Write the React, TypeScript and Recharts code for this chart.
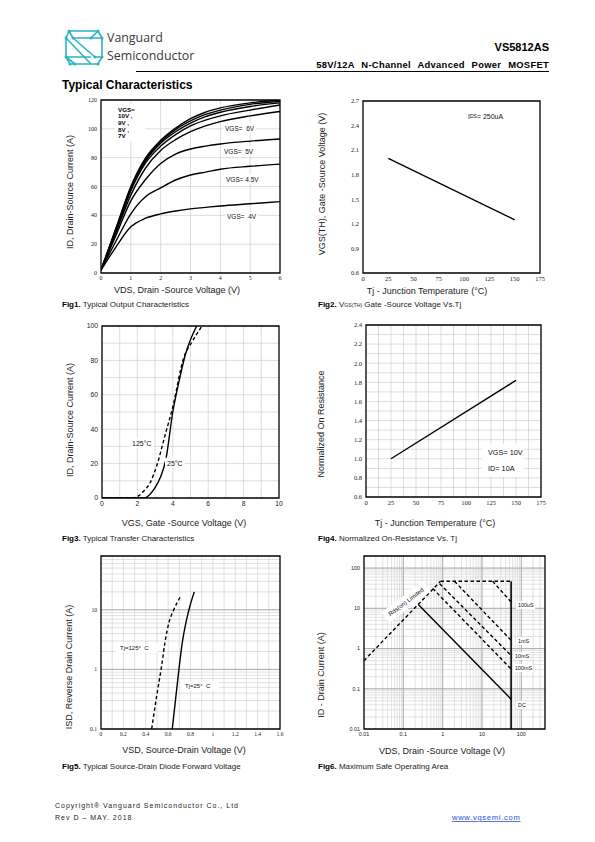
import React from "react";
import { LineChart, Line, XAxis, YAxis, CartesianGrid, ReferenceArea } from "recharts";

// Fig1 - output characteristics
const outVds = [0, 0.5, 1, 1.5, 2, 2.5, 3, 3.5, 4, 5, 6];
const idVgs10 = [2, 31, 60, 80, 92, 100.5, 107, 111.5, 114.5, 118, 120];
const idVgs9 = [2, 30.5, 59, 79, 91, 99.5, 105.5, 110, 113, 117, 119];
const idVgs8 = [2, 30, 58, 78, 90, 98, 104, 108.5, 111.5, 115.5, 118];
const idVgs7 = [2, 29, 57, 76.5, 88, 96, 102, 106, 109, 113, 116.5];
const idVgs6 = [2, 28, 54, 73, 85, 92.5, 98, 102, 105, 109, 112];
const idVgs5 = [2, 26, 50, 65, 76, 82.5, 86, 88, 89.5, 91.5, 93];
const idVgs45 = [2, 22, 41, 53, 59, 64.5, 68, 70, 72, 74, 75.5];
const idVgs4 = [2, 18, 32, 38, 41, 43, 44.5, 45.5, 46.5, 48, 49.5];

// Fig2 - threshold voltage vs Tj
const vthTj = [25, 150];
const vthV = [2.0, 1.25];

// Fig3 - transfer characteristics
const trVgs25 = [0, 2.4, 2.7, 3.0, 3.3, 3.6, 4.0, 4.4, 4.7, 5.0, 5.35];
const trId25 = [0, 0, 2, 6, 12, 22, 50, 70, 83, 92, 100];
const trVgs125 = [0, 1.7, 2.1, 2.4, 2.7, 3.1, 3.55, 4.0, 4.6, 5.1, 5.65];
const trId125 = [0, 0, 1.5, 4.5, 8.5, 19, 36, 53, 81, 91, 100];

// Fig4 - normalized Rds(on) vs Tj
const ronTj = [25, 150];
const ronNorm = [1.0, 1.82];

// Fig5 - diode forward voltage
const vsd125 = [0.453, 0.498, 0.542, 0.572, 0.608, 0.646, 0.715];
const isd125 = [0.1, 0.36, 1.15, 2.85, 6.2, 9.6, 17.4];
const vsd25 = [0.637, 0.667, 0.697, 0.727, 0.766, 0.795, 0.834];
const isd25 = [0.1, 0.32, 1.02, 2.85, 7, 11.6, 20];

// Fig6 - safe operating area
const rdsV = [0.01, 0.88];
const rdsI = [0.5, 47];
const limitV = [0.88, 55];
const limitI = [47, 47];
const edgeV = [55, 55];
const edgeI = [47, 0.01];
const us100V = [18.6, 55];
const us100I = [47, 14.4];
const ms1V = [2.0, 55];
const ms1I = [47, 1.6];
const ms10V = [0.84, 55];
const ms10I = [41, 0.67];
const ms100V = [0.56, 55];
const ms100I = [31, 0.31];
const dcV = [0.24, 55];
const dcI = [12.4, 0.055];
const soaLabels = ["100uS", "1mS", "10mS", "100mS", "DC"];

const zip = (xs: number[], ys: number[]) => xs.map((x, i) => ({ x, y: ys[i] }));

const logGrid = (from: number, to: number) => {
  const out: number[] = [];
  for (let d = from; d < to; d *= 10) {
    for (let k = 1; k < 10; k++) {
      const v = +(d * k).toPrecision(3);
      if (v > from && v < to) out.push(v);
    }
  }
  return out;
};

const SANS = "'Liberation Sans', Arial, sans-serif";
const SERIF = "'Liberation Serif', 'Times New Roman', serif";

type PlotProps = {
  left: number;
  top: number;
  w: number;
  h: number;
  xDomain: [number, number];
  yDomain: [number, number];
  xTicks: number[];
  yTicks: number[];
  xLog?: boolean;
  yLog?: boolean;
  gridX?: number[];
  gridY?: number[];
  majorX?: number[];
  majorY?: number[];
  gridColor?: string;
  tickFont?: string;
  tickSize?: number;
  yFmt?: (v: number) => string;
  children?: React.ReactNode;
};

function Plot(p: PlotProps) {
  const L = 40, T = 6, R = 8, B = 20;
  const tick = { fontFamily: p.tickFont ?? SERIF, fontSize: p.tickSize ?? 6, fill: "#222" };
  return (
    <div style={{ position: "absolute", left: p.left - L, top: p.top - T }}>
      <LineChart width={p.w + L + R} height={p.h + T + B} margin={{ top: T, right: R, bottom: 0, left: 0 }}>
        {(p.gridX || p.gridY) && (
          <CartesianGrid
            stroke={p.gridColor ?? "#cfcfcf"}
            strokeWidth={0.7}
            vertical={!!p.gridX}
            horizontal={!!p.gridY}
            verticalValues={p.gridX}
            horizontalValues={p.gridY}
          />
        )}
        {(p.majorX || p.majorY) && (
          <CartesianGrid
            stroke="#a8a8a8"
            strokeWidth={0.9}
            vertical={!!p.majorX}
            horizontal={!!p.majorY}
            verticalValues={p.majorX}
            horizontalValues={p.majorY}
          />
        )}
        <XAxis
          type="number"
          dataKey="x"
          scale={p.xLog ? "log" : "linear"}
          domain={p.xDomain}
          ticks={p.xTicks}
          interval={0}
          allowDataOverflow
          height={B}
          axisLine={false}
          tickLine={false}
          tickSize={0}
          tickMargin={3}
          tick={tick}
        />
        <YAxis
          type="number"
          scale={p.yLog ? "log" : "linear"}
          domain={p.yDomain}
          ticks={p.yTicks}
          interval={0}
          allowDataOverflow
          width={L}
          axisLine={false}
          tickLine={false}
          tickSize={0}
          tickMargin={4}
          tick={tick}
          tickFormatter={p.yFmt}
        />
        <ReferenceArea
          x1={p.xDomain[0]}
          x2={p.xDomain[1]}
          y1={p.yDomain[0]}
          y2={p.yDomain[1]}
          fill="none"
          fillOpacity={0}
          stroke="#000"
          strokeWidth={1.3}
        />
        {p.children}
      </LineChart>
    </div>
  );
}

const curve = (xs: number[], ys: number[], key: string, dashed = false, type: "monotone" | "linear" = "monotone", width = 1.4) => (
  <Line
    key={key}
    data={zip(xs, ys)}
    dataKey="y"
    type={type}
    stroke="#000"
    strokeWidth={width}
    strokeDasharray={dashed ? "3.5 2.5" : undefined}
    dot={false}
    activeDot={false}
    isAnimationActive={false}
  />
);

function Note({ x, y, text, size = 6.5, bold = false, font = SANS, pad = 2 }: { x: number; y: number; text: string; size?: number; bold?: boolean; font?: string; pad?: number }) {
  const w = text.length * size * 0.56;
  return (
    <g>
      <rect x={x - pad} y={y - size * 0.75} width={w + pad * 2} height={size * 1.5} fill="#fff" />
      <text x={x} y={y} dominantBaseline="central" fontFamily={font} fontSize={size} fontWeight={bold ? 700 : 400} fill="#111" xmlSpace="preserve">
        {text}
      </text>
    </g>
  );
}

function VLabel({ x, y, text }: { x: number; y: number; text: string }) {
  return (
    <text transform={`translate(${x},${y}) rotate(-90)`} textAnchor="middle" dominantBaseline="central" fontFamily={SANS} fontSize={9} fill="#222">
      {text}
    </text>
  );
}

function HLabel({ x, y, children }: { x: number; y: number; children: React.ReactNode }) {
  return (
    <text x={x} y={y} textAnchor="middle" dominantBaseline="central" fontFamily={SANS} fontSize={9} fill="#222">
      {children}
    </text>
  );
}

function Caption({ x, y, fig, children }: { x: number; y: number; fig: string; children: React.ReactNode }) {
  return (
    <text x={x} y={y} fontFamily={SANS} fontSize={8} fill="#222">
      <tspan fontWeight={700} fill="#000">{fig}</tspan> {children}
    </text>
  );
}

function Logo() {
  const c = "#2bb3c6";
  const nodes = [
    [69, 31], [98, 31], [102, 38], [66, 38], [73, 38], [95, 57], [102, 57], [66, 57], [70, 64], [98, 64], [91, 38], [75, 64],
  ];
  return (
    <g stroke={c} strokeWidth={1.6} fill="none" strokeLinejoin="round">
      <path d="M69 31 H98 L102 38 H73 L69 31 L66 38 L91 64" />
      <path d="M73 38 L95 57 H102 L98 64 H70 L66 57 H91" />
      <path d="M98 31 L91 38 M66 38 L66 57 M102 38 L102 57 M75 64 L66 57" />
      {nodes.map(([x, y], i) => (
        <circle key={i} cx={x} cy={y} r={1.5} fill={c} stroke="none" />
      ))}
    </g>
  );
}

const fix1 = (v: number) => v.toFixed(1);

export default function App() {
  return (
    <div style={{ position: "absolute", left: 0, top: 0, width: 595, height: 842, background: "#fff", overflow: "hidden" }}>
      <svg width={595} height={842} style={{ position: "absolute", left: 0, top: 0 }}>
        <Logo />
        <text x={107} y={42} fontFamily="'Open Sans', sans-serif" fontSize={12.4} fill="#3a3a3a">Vanguard</text>
        <text x={107} y={60} fontFamily="'Open Sans', sans-serif" fontSize={12.4} fill="#3a3a3a">Semiconductor</text>
        <text x={549} y={51} textAnchor="end" fontFamily={SANS} fontSize={11} fontWeight={700}>VS5812AS</text>
        <text x={549} y={68} textAnchor="end" fontFamily={SANS} fontSize={9.4} fontWeight={700} letterSpacing={0.3} wordSpacing={4}>58V/12A N-Channel Advanced Power MOSFET</text>
        <line x1={136} y1={71.5} x2={549} y2={71.5} stroke="#000" strokeWidth={1} />
        <text x={62} y={89} fontFamily={SANS} fontSize={12} fontWeight={700}>Typical Characteristics</text>

        <VLabel x={70} y={192} text="ID, Drain-Source Current (A)" />
        <HLabel x={177} y={290}>VDS, Drain -Source Voltage (V)</HLabel>
        <Caption x={62} y={307} fig="Fig1.">Typical Output Characteristics</Caption>

        <VLabel x={322} y={184} text="VGS(TH), Gate -Source Voltage (V)" />
        <HLabel x={427} y={291}>Tj - Junction Temperature (°C)</HLabel>
        <Caption x={318} y={307} fig="Fig2.">
          V<tspan fontSize={5.2}>GS(TH)</tspan> Gate -Source Voltage Vs.Tj
        </Caption>

        <VLabel x={70} y={420} text="ID, Drain-Source Current (A)" />
        <HLabel x={184} y={523}>VGS, Gate -Source Voltage (V)</HLabel>
        <Caption x={62} y={541} fig="Fig3.">Typical Transfer Characteristics</Caption>

        <VLabel x={321} y={424} text="Normalized On Resistance" />
        <HLabel x={435} y={523}>Tj - Junction Temperature (°C)</HLabel>
        <Caption x={318} y={541} fig="Fig4.">Normalized On-Resistance Vs. Tj</Caption>

        <VLabel x={69} y={667} text="ISD, Reverse Drain Current (A)" />
        <HLabel x={184} y={750}>VSD, Source-Drain Voltage (V)</HLabel>
        <Caption x={62} y={769} fig="Fig5.">Typical Source-Drain Diode Forward Voltage</Caption>

        <VLabel x={321} y={675} text="ID - Drain Current (A)" />
        <HLabel x={442} y={751}>VDS, Drain -Source Voltage (V)</HLabel>
        <Caption x={318} y={769} fig="Fig6.">Maximum Safe Operating Area</Caption>

        <text x={55} y={808} fontFamily={SANS} fontSize={7} letterSpacing={1} fill="#222">Copyright® Vanguard Semiconductor Co., Ltd</text>
        <text x={55} y={820} fontFamily={SANS} fontSize={7} letterSpacing={1} fill="#222">Rev D – MAY. 2018</text>
        <text x={452} y={820} fontFamily={SANS} fontSize={7.6} letterSpacing={0.7} fill="#1d4fd8" textDecoration="underline">www.vgsemi.com</text>
      </svg>

      <Plot left={101} top={100} w={179} h={173} xDomain={[0, 6]} yDomain={[0, 120]} xTicks={[0, 1, 2, 3, 4, 5, 6]} yTicks={[0, 20, 40, 60, 80, 100, 120]}
        gridX={[1, 2, 3, 4, 5]} gridY={[20, 40, 60, 80, 100]}>
        {curve(outVds, idVgs4, "v4")}
        {curve(outVds, idVgs45, "v45")}
        {curve(outVds, idVgs5, "v5")}
        {curve(outVds, idVgs6, "v6")}
        {curve(outVds, idVgs7, "v7")}
        {curve(outVds, idVgs8, "v8")}
        {curve(outVds, idVgs9, "v9")}
        {curve(outVds, idVgs10, "v10")}
      </Plot>

      <Plot left={363} top={101} w={177} h={172} xDomain={[0, 175]} yDomain={[0.6, 2.7]} xTicks={[0, 25, 50, 75, 100, 125, 150, 175]}
        yTicks={[0.6, 0.9, 1.2, 1.5, 1.8, 2.1, 2.4, 2.7]} tickSize={6.5} yFmt={fix1}>
        {curve(vthTj, vthV, "vth", false, "linear")}
      </Plot>

      <Plot left={102} top={326} w={177} h={172} xDomain={[0, 10]} yDomain={[0, 100]} xTicks={[0, 2, 4, 6, 8, 10]} yTicks={[0, 20, 40, 60, 80, 100]}
        gridX={[1, 2, 3, 4, 5, 6, 7, 8, 9]} gridY={[10, 20, 30, 40, 50, 60, 70, 80, 90]} tickFont={SANS} tickSize={6.8}>
        {curve(trVgs125, trId125, "t125", true)}
        {curve(trVgs25, trId25, "t25")}
      </Plot>

      <Plot left={366} top={325} w={175} h={172} xDomain={[0, 175]} yDomain={[0.6, 2.4]} xTicks={[0, 25, 50, 75, 100, 125, 150, 175]}
        yTicks={[0.6, 0.8, 1.0, 1.2, 1.4, 1.6, 1.8, 2.0, 2.2, 2.4]} tickSize={6.5} yFmt={fix1}
        gridX={[12.5, 25, 37.5, 50, 62.5, 75, 87.5, 100, 112.5, 125, 137.5, 150, 162.5]}
        gridY={[0.7, 0.8, 0.9, 1.0, 1.1, 1.2, 1.3, 1.4, 1.5, 1.6, 1.7, 1.8, 1.9, 2.0, 2.1, 2.2, 2.3]}>
        {curve(ronTj, ronNorm, "ron", false, "linear")}
      </Plot>

      <Plot left={101} top={556} w={179} h={173} xDomain={[0, 1.6]} yDomain={[0.1, 80]} yLog xTicks={[0, 0.2, 0.4, 0.6, 0.8, 1, 1.2, 1.4, 1.6]}
        yTicks={[0.1, 1, 10]} tickSize={5.6}
        gridX={[0.1, 0.2, 0.3, 0.4, 0.5, 0.6, 0.7, 0.8, 0.9, 1, 1.1, 1.2, 1.3, 1.4, 1.5]}
        gridY={logGrid(0.1, 80)} majorY={[1, 10]} gridColor="#d2d2d2">
        {curve(vsd125, isd125, "d125", true)}
        {curve(vsd25, isd25, "d25")}
      </Plot>

      <Plot left={364} top={556} w={181} h={173} xDomain={[0.01, 400]} yDomain={[0.01, 200]} xLog yLog
        xTicks={[0.01, 0.1, 1, 10, 100]} yTicks={[0.01, 0.1, 1, 10, 100]} tickFont={SANS} tickSize={5.4}
        gridX={logGrid(0.01, 400)} gridY={logGrid(0.01, 200)} majorX={[0.1, 1, 10, 100]} majorY={[0.1, 1, 10, 100]} gridColor="#d6d6d6">
        {curve(rdsV, rdsI, "rds", true, "linear")}
        {curve(limitV, limitI, "lim", true, "linear")}
        {curve(us100V, us100I, "us100", true, "linear")}
        {curve(ms1V, ms1I, "ms1", true, "linear")}
        {curve(ms10V, ms10I, "ms10", true, "linear")}
        {curve(ms100V, ms100I, "ms100", true, "linear")}
        {curve(dcV, dcI, "dc", false, "linear")}
        {curve(edgeV, edgeI, "edge", false, "linear", 1.6)}
      </Plot>

      <svg width={595} height={842} style={{ position: "absolute", left: 0, top: 0, pointerEvents: "none" }}>
        <rect x={115} y={104} width={30} height={37} fill="#fff" />
        {["VGS=", "10V ,", "9V ,", "8V ,", "7V"].map((t, i) => (
          <text key={t} x={118} y={109 + i * 6.7} dominantBaseline="central" fontFamily={SANS} fontSize={6.2} fontWeight={700} xmlSpace="preserve">{t}</text>
        ))}
        <Note x={225} y={128.3} text="VGS=  6V" />
        <Note x={224} y={151} text="VGS=  5V" />
        <Note x={226} y={179.3} text="VGS= 4.5V" />
        <Note x={227} y={216.7} text="VGS=  4V" />

        <text x={468} y={116} dominantBaseline="central" fontFamily={SANS} fontSize={7} fill="#111">
          I<tspan fontSize={5}>DS</tspan>= 250uA
        </text>

        <Note x={132} y={443} text="125°C" size={7} />
        <Note x={167} y={463} text="25°C" size={7} />

        <rect x={482} y={444} width={42} height={33} fill="#fff" />
        <text x={488} y={452} dominantBaseline="central" fontFamily={SANS} fontSize={7.3} fill="#111">VGS= 10V</text>
        <text x={488} y={468} dominantBaseline="central" fontFamily={SANS} fontSize={7.3} fill="#111">ID= 10A</text>

        <Note x={120} y={648} text="Tj=125°  C" size={6} pad={4} />
        <Note x={185} y={686} text="Tj=25°  C" size={6} pad={4} />

        <g transform="translate(406,602) rotate(-37)">
          <rect x={-26} y={-6.5} width={52} height={13} fill="#fff" />
          <text x={0} y={0} textAnchor="middle" dominantBaseline="central" fontFamily={SANS} fontSize={6} fill="#111">Rds(on) Limited</text>
        </g>
        {[605, 641, 656, 668, 705].map((y, i) => (
          <Note key={soaLabels[i]} x={i === 2 || i === 3 ? 515 : 518} y={y} text={soaLabels[i]} size={5.4} />
        ))}
      </svg>
    </div>
  );
}
